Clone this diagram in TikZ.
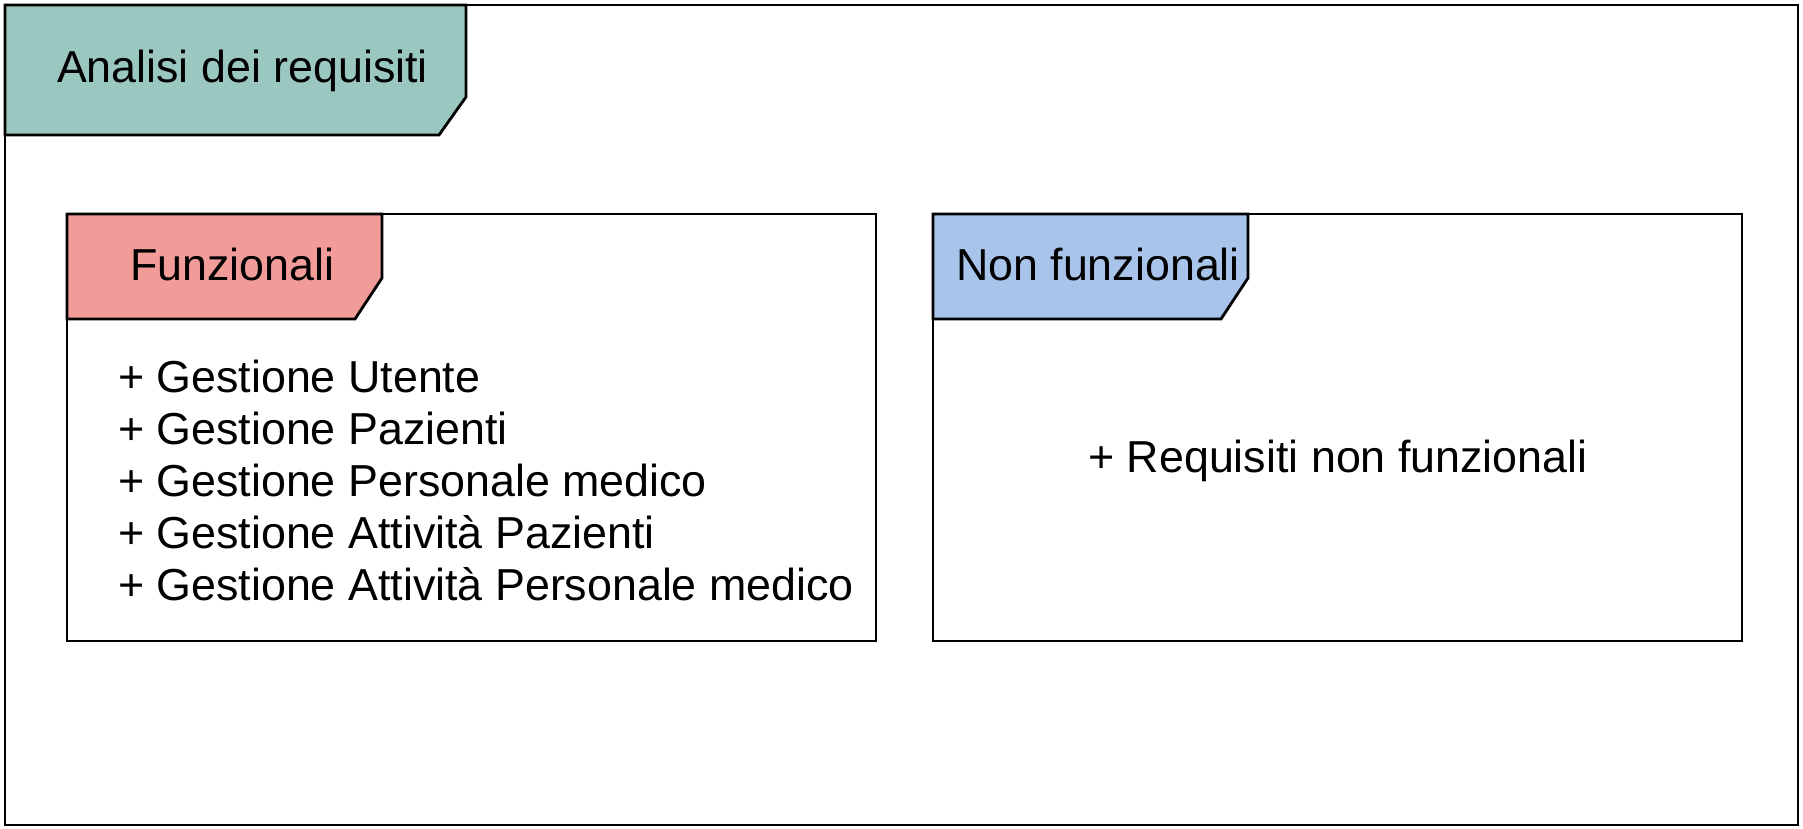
\documentclass[tikz,border=0pt]{standalone}
\usepackage{fontspec}
\setmainfont{Liberation Sans}
\definecolor{tealtab}{HTML}{9AC7BF}
\definecolor{redtab}{HTML}{F19C99}
\definecolor{bluetab}{HTML}{A9C4EB}
\begin{document}
\begin{tikzpicture}[x=1pt,y=-1pt,
  frame/.style={draw=black,line width=2.8pt,line join=miter},
  txt/.style={inner sep=0pt,outer sep=0pt,font=\fontsize{44.8}{52}\selectfont,text=black}]
\useasboundingbox (0,0) rectangle (1803,829);
\fill[white] (0,0) rectangle (1803,829);
% outer frame
\draw[frame] (5,5) rectangle (1798,825);
\draw[frame,fill=tealtab] (5,5) -- (466,5) -- (466,97) -- (439,135) -- (5,135) -- cycle;
\node[txt,anchor=base west] (title) at (57,83) {Analisi dei requisiti};
% Funzionali box
\draw[frame] (67,214) rectangle (876,641);
\draw[frame,fill=redtab] (67,214) -- (382,214) -- (382,278) -- (355,319) -- (67,319) -- cycle;
\node[txt,anchor=base west] (fun) at (130,280) {Funzionali};
\node[txt,anchor=base west] (l1) at (118,392) {+ Gestione Utente};
\node[txt,anchor=base west] (l2) at (118,444) {+ Gestione Pazienti};
\node[txt,anchor=base west] (l3) at (118,496) {+ Gestione Personale medico};
\node[txt,anchor=base west] (l4) at (118,548) {+ Gestione Attività Pazienti};
\node[txt,anchor=base west] (l5) at (118,600) {+ Gestione Attività Personale medico};
% Non funzionali box
\draw[frame] (933,214) rectangle (1742,641);
\draw[frame,fill=bluetab] (933,214) -- (1248,214) -- (1248,278) -- (1221,319) -- (933,319) -- cycle;
\node[txt,anchor=base west] (nonfun) at (956,280) {Non funzionali};
\node[txt,anchor=base] (req) at (1338,472) {+ Requisiti non funzionali};
\end{tikzpicture}
\end{document}
